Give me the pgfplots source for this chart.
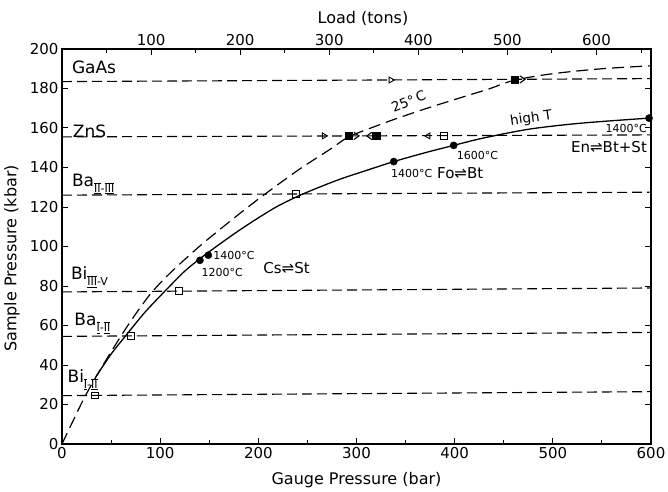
\documentclass[border=0pt]{standalone}
\usepackage{fontspec}
\setmainfont{DejaVu Sans}
\usepackage{pgfplots}
\pgfplotsset{compat=1.18}

\pgfdeclareplotmark{rchev}{%
  \pgfpathmoveto{\pgfqpoint{-0.7\pgfplotmarksize}{\pgfplotmarksize}}%
  \pgfpathlineto{\pgfqpoint{0.7\pgfplotmarksize}{0pt}}%
  \pgfpathlineto{\pgfqpoint{-0.7\pgfplotmarksize}{-\pgfplotmarksize}}%
  \pgfusepathqstroke}
\pgfdeclareplotmark{lchev}{%
  \pgfpathmoveto{\pgfqpoint{0.7\pgfplotmarksize}{\pgfplotmarksize}}%
  \pgfpathlineto{\pgfqpoint{-0.7\pgfplotmarksize}{0pt}}%
  \pgfpathlineto{\pgfqpoint{0.7\pgfplotmarksize}{-\pgfplotmarksize}}%
  \pgfusepathqstroke}

\newcommand{\ticfont}{\fontsize{15bp}{18bp}\selectfont}
\newcommand{\labfont}{\fontsize{16bp}{19bp}\selectfont}
\newcommand{\matfont}{\fontsize{17bp}{20bp}\selectfont}
\newcommand{\rxfont}{\fontsize{15bp}{18bp}\selectfont}
\newcommand{\tfont}{\fontsize{11bp}{13bp}\selectfont}
\newcommand{\cfont}{\fontsize{13.5bp}{16bp}\selectfont}
\newcommand{\rn}[1]{$\overline{\underline{\hbox{#1}}}$}
\newcommand{\sub}[1]{\raisebox{-6bp}{\fontsize{11bp}{12bp}\selectfont #1}}

\pgfplotstableread{
x y
0 0
12 12.5
24 24.6
40 38.5
60 54.6
75 65.8
91 76.5
110 86.5
141 100.5
173 113.5
200 124
240 138.5
274 149.5
292 155.5
320 161
342 165
375 170.5
409 175.8
435 179.8
461 184.2
500 187.5
550 190
600 191.5
}\roomtemp

\pgfplotstableread{
x y
34.5 34
50 45.5
66 55.5
85 67
107 78.5
125 87.5
141 94
160 101
180 108
200 114.5
220 120.5
245 126.5
280 133.5
310 138.5
338 143
370 147.5
399 151.2
430 155
477 159.5
530 162.5
598 165
}\highT

\begin{document}
\begin{tikzpicture}
\begin{axis}[name=main, scale only axis, width=589bp, height=395bp,
  xmin=0, xmax=600, ymin=0, ymax=200,
  xtick={0,100,...,600}, minor xtick={50,150,...,550},
  ytick={0,20,...,200},
  xtick pos=left,
  tick align=inside, major tick length=6bp, minor tick length=4bp,
  axis line style={line width=1.3bp},
  every tick/.style={line width=1bp, black},
  tick label style={font=\ticfont},
  /pgf/number format/assume math mode=true,
  xlabel={Gauge Pressure (bar)}, ylabel={Sample Pressure (kbar)},
  label style={font=\labfont},
  xlabel style={at={(axis description cs:0.5,-0.091)}, anchor=center},
  ylabel style={at={(axis description cs:-0.085,0.47)}, anchor=center},
  clip=false]

% horizontal transition lines
\addplot[black, line width=1.1bp, dash pattern=on 10bp off 5bp] coordinates {(0,24.5) (600,26.5)};
\addplot[black, line width=1.1bp, dash pattern=on 10bp off 5bp] coordinates {(0,54.5) (600,56.5)};
\addplot[black, line width=1.1bp, dash pattern=on 10bp off 5bp] coordinates {(0,77) (600,79)};
\addplot[black, line width=1.1bp, dash pattern=on 10bp off 5bp] coordinates {(0,126) (600,127.5)};
\addplot[black, line width=1.1bp, dash pattern=on 10bp off 5bp] coordinates {(0,155.5) (600,156.5)};
\addplot[black, line width=1.1bp, dash pattern=on 10bp off 5bp] coordinates {(0,183.5) (600,185)};

% calibration curves
\addplot[black, line width=1.2bp, dash pattern=on 12bp off 6bp, smooth] table {\roomtemp};
\addplot[black, line width=1.3bp, smooth] table {\highT};

% open squares
\addplot[only marks, mark=square, mark size=3.4bp, mark options={solid, fill=white, line width=1bp, black}]
  coordinates {(34,24.6) (70,54.7) (119,77.4) (238,126.6) (389,156.1)};
% filled squares
\addplot[only marks, mark=square*, mark size=3.8bp, mark options={solid}, black]
  coordinates {(292,156) (320,156) (461,184.5)};
% filled circles
\addplot[only marks, mark=*, mark size=3.6bp, mark options={solid}, black]
  coordinates {(140.5,93) (149,95.6) (338,143) (399,151.2) (598,165)};
% open arrowheads
\addplot[only marks, mark=triangle, mark size=3.4bp, mark options={solid, rotate=-90, fill=white, line width=0.9bp, black}]
  coordinates {(267,156) (335,184.3)};
\addplot[only marks, mark=triangle, mark size=3.4bp, mark options={solid, rotate=90, fill=white, line width=0.9bp, black}]
  coordinates {(373,156)};
% chevrons
\addplot[only marks, mark=rchev, mark size=3.6bp, mark options={solid, line width=1.1bp, black}]
  coordinates {(300,156) (469,184.6)};
\addplot[only marks, mark=lchev, mark size=3.6bp, mark options={solid, line width=1.1bp, black}]
  coordinates {(313,156)};

% material labels
\node[anchor=west, font=\matfont, inner sep=0pt] at (axis cs:10,190.5) {GaAs};
\node[anchor=west, font=\matfont, inner sep=0pt] at (axis cs:11,158.5) {ZnS};
\node[anchor=base west, font=\matfont, inner sep=0pt] at (axis cs:10,130.5) {Ba\sub{\rn{II}-\rn{III}}};
\node[anchor=base west, font=\matfont, inner sep=0pt] at (axis cs:9,83.3) {Bi\sub{\rn{III}-V}};
\node[anchor=base west, font=\matfont, inner sep=0pt] at (axis cs:12.5,60.1) {Ba\sub{\rn{I}-\rn{II}}};
\node[anchor=base west, font=\matfont, inner sep=0pt] at (axis cs:5.5,31.3) {Bi\sub{\rn{I}-\rn{II}}};

% reaction / temperature labels
\node[anchor=west, font=\tfont, inner sep=0pt] at (axis cs:154,95.5) {1400°C};
\node[anchor=west, font=\tfont, inner sep=0pt] at (axis cs:142,87) {1200°C};
\node[anchor=west, font=\rxfont, inner sep=0pt] at (axis cs:205,89) {Cs⇌St};
\node[anchor=west, font=\tfont, inner sep=0pt] at (axis cs:335,137.2) {1400°C};
\node[anchor=west, font=\rxfont, inner sep=0pt] at (axis cs:382,137.2) {Fo⇌Bt};
\node[anchor=west, font=\tfont, inner sep=0pt] at (axis cs:402,146.3) {1600°C};
\node[anchor=east, font=\tfont, inner sep=0pt] at (axis cs:596,159.5) {1400°C};
\node[anchor=east, font=\rxfont, inner sep=0pt] at (axis cs:596,150.4) {En⇌Bt+St};
\node[font=\cfont, inner sep=0pt, rotate=8] at (axis cs:478,164.8) {high T};
\node[font=\cfont, inner sep=0pt, rotate=22] at (axis cs:353,173.5) {25°\,C};
\end{axis}

\begin{axis}[scale only axis, width=589bp, height=395bp,
  xmin=0, xmax=661.2, ymin=0, ymax=200,
  axis x line*=top, axis y line=none,
  xtick={100,200,...,600}, minor xtick={50,150,...,650},
  tick align=inside, major tick length=6bp, minor tick length=4bp,
  axis line style={line width=1.3bp},
  every tick/.style={line width=1bp, black},
  tick label style={font=\ticfont},
  /pgf/number format/assume math mode=true,
  xlabel={Load (tons)}, label style={font=\labfont},
  xlabel style={at={(axis description cs:0.511,1.078)}, anchor=center}]
\addplot[draw=none] coordinates {(0,0) (661.2,200)};
\end{axis}

\pgfresetboundingbox
\path[use as bounding box] ([shift={(-62bp,-47bp)}]main.south west) rectangle ([shift={(17bp,49bp)}]main.north east);
\end{tikzpicture}
\end{document}
